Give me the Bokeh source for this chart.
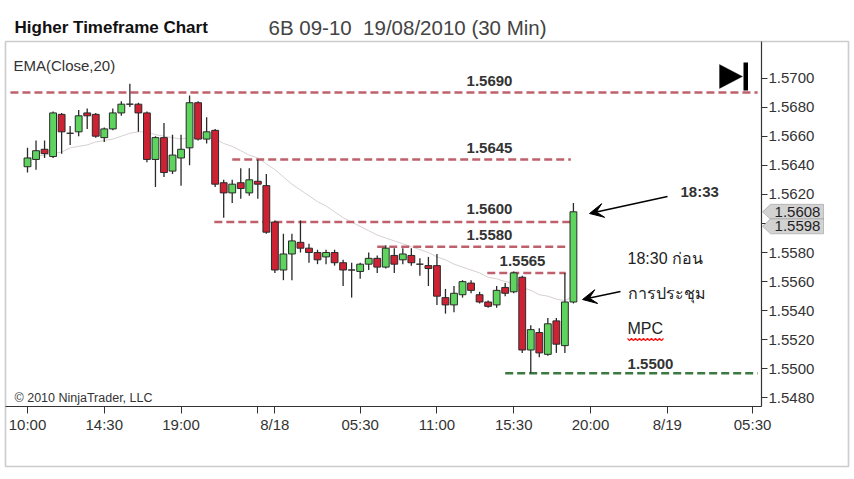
from bokeh.plotting import figure
from bokeh.models import (Range1d, FixedTicker, NumeralTickFormatter, Label, Arrow, VeeHead,
                          PolyAnnotation, BoxAnnotation, ColumnDataSource)
from bokeh.embed import file_html
from bokeh.resources import INLINE

# ---------------- data ----------------
opens = [1.5639, 1.5644, 1.5651, 1.5646, 1.5675, 1.5662, 1.5663, 1.5676, 1.5675, 1.5659,
         1.5665, 1.5676, 1.5682, 1.5682, 1.5676, 1.5644, 1.5659, 1.5636, 1.5645, 1.5652,
         1.5683, 1.5658, 1.5664, 1.5628, 1.5621, 1.5628, 1.5621, 1.5629, 1.5626, 1.5601,
         1.5568, 1.5579, 1.5587, 1.5583, 1.5580, 1.5577, 1.5580, 1.5573, 1.5568, 1.5567,
         1.5572, 1.5576, 1.5570, 1.5578, 1.5575, 1.5578, 1.5572, 1.5571, 1.5571, 1.5549,
         1.5544, 1.5551, 1.5559, 1.5551, 1.5546, 1.5544, 1.5556, 1.5553, 1.5563, 1.5513,
         1.5525, 1.5510, 1.5533, 1.5516, 1.5546]
highs = [1.5652, 1.5657, 1.5657, 1.5677, 1.5676, 1.5667, 1.5678, 1.5679, 1.5676, 1.5666,
         1.5679, 1.5684, 1.5696, 1.5683, 1.5677, 1.5660, 1.5669, 1.5661, 1.5661, 1.5688,
         1.5684, 1.5673, 1.5665, 1.5630, 1.5630, 1.5638, 1.5638, 1.5644, 1.5634, 1.5602,
         1.5593, 1.5593, 1.5602, 1.5586, 1.5582, 1.5582, 1.5582, 1.5575, 1.5573, 1.5573,
         1.5580, 1.5578, 1.5585, 1.5583, 1.5583, 1.5583, 1.5576, 1.5577, 1.5579, 1.5555,
         1.5557, 1.5561, 1.5561, 1.5553, 1.5547, 1.5557, 1.5559, 1.5567, 1.5564, 1.5530,
         1.5528, 1.5535, 1.5535, 1.5566, 1.5614]
lows = [1.5635, 1.5637, 1.5645, 1.5645, 1.5648, 1.5654, 1.5660, 1.5665, 1.5659, 1.5656,
        1.5664, 1.5674, 1.5680, 1.5663, 1.5642, 1.5625, 1.5632, 1.5634, 1.5626, 1.5640,
        1.5657, 1.5655, 1.5625, 1.5604, 1.5614, 1.5617, 1.5619, 1.5617, 1.5593, 1.5566,
        1.5561, 1.5561, 1.5580, 1.5573, 1.5572, 1.5572, 1.5571, 1.5557, 1.5549, 1.5562,
        1.5568, 1.5566, 1.5569, 1.5566, 1.5572, 1.5571, 1.5564, 1.5557, 1.5544, 1.5538,
        1.5539, 1.5549, 1.5552, 1.5545, 1.5542, 1.5542, 1.5550, 1.5552, 1.5511, 1.5497,
        1.5508, 1.5509, 1.5511, 1.5511, 1.5545]
closes = [1.5645, 1.5650, 1.5648, 1.5676, 1.5663, 1.5662, 1.5674, 1.5674, 1.5660, 1.5665,
          1.5676, 1.5682, 1.5682, 1.5676, 1.5644, 1.5659, 1.5635, 1.5647, 1.5651, 1.5683,
          1.5658, 1.5663, 1.5627, 1.5621, 1.5627, 1.5624, 1.5630, 1.5627, 1.5594, 1.5568,
          1.5579, 1.5588, 1.5583, 1.5580, 1.5575, 1.5580, 1.5573, 1.5568, 1.5568, 1.5572,
          1.5576, 1.5570, 1.5583, 1.5572, 1.5579, 1.5573, 1.5572, 1.5569, 1.5550, 1.5544,
          1.5552, 1.5560, 1.5554, 1.5546, 1.5543, 1.5554, 1.5552, 1.5566, 1.5513, 1.5527,
          1.5511, 1.5531, 1.5517, 1.5546, 1.5608]
ema20 = [1.5645, 1.5646, 1.5647, 1.5648, 1.5649, 1.5652, 1.5653, 1.5654, 1.5656, 1.5657,
         1.5658, 1.5660, 1.5662, 1.5663, 1.5663, 1.5661, 1.5660, 1.5659, 1.5658, 1.5659,
         1.5659, 1.5659, 1.5658, 1.5655, 1.5653, 1.5650, 1.5647, 1.5645, 1.5641, 1.5637,
         1.5632, 1.5627, 1.5623, 1.5619, 1.5615, 1.5612, 1.5608, 1.5604, 1.5601, 1.5598,
         1.5595, 1.5592, 1.5590, 1.5588, 1.5586, 1.5584, 1.5582, 1.5580, 1.5577, 1.5575,
         1.5572, 1.5570, 1.5568, 1.5566, 1.5563, 1.5562, 1.5560, 1.5559, 1.5556, 1.5554,
         1.5551, 1.5550, 1.5548, 1.5547, 1.5550]

x_tick_bars = [0, 9, 18, 27, 29, 39, 48, 57, 66, 75, 85]
x_tick_labels = ["10:00", "14:30", "19:00", "", "8/18", "05:30", "11:00", "15:30", "20:00", "8/19", "05:30"]
y_ticks = [1.5480, 1.5500, 1.5520, 1.5540, 1.5560, 1.5580, 1.5600, 1.5620, 1.5640, 1.5660, 1.5680, 1.5700]

res_levels = [1.5690, 1.5644, 1.5601, 1.5584, 1.5566]
res_labels = ["1.5690", "1.5645", "1.5600", "1.5580", "1.5565"]
res_from = [-2.0, 24.0, 21.9, 41.0, 53.9]
res_to = [85.6, 63.7, 63.7, 63.1, 63.1]
sup_level = 1.5497
sup_label = "1.5500"
sup_from, sup_to = 56.0, 85.6
last_price = 1.5608
marker_price = 1.5598

# ---------------- helpers (reference pixel -> data) ----------------
def xd(px):
    return (px - 27.0) / 8.53

def yd(py):
    return 1.5700 - (py - 77.5) / 14545.0

FONT = "Liberation Sans"
TXT = "#333333"

p = figure(width=854, height=479,
           min_border_left=0, min_border_right=0, min_border_top=0, min_border_bottom=0,
           x_range=Range1d(xd(0), xd(854)), y_range=Range1d(yd(479), yd(0)),
           y_axis_location="right", output_backend="svg", toolbar_location=None, title=None)
p.background_fill_color = "white"
p.border_fill_color = "white"
p.xgrid.visible = False
p.ygrid.visible = False
p.outline_line_color = None

ax = p.xaxis[0]
ax.fixed_location = yd(406)
ax.bounds = (xd(5), xd(761))
ax.ticker = FixedTicker(ticks=x_tick_bars)
ax.major_label_overrides = {t: l for t, l in zip(x_tick_bars, x_tick_labels)}
ax.minor_tick_line_color = None
ax.major_tick_in = 0
ax.major_tick_out = 7
ax.major_label_standoff = 2
ax.axis_line_color = "#333333"
ax.axis_line_width = 1.2
ax.major_tick_line_color = "#333333"
ax.major_label_text_font = FONT
ax.major_label_text_font_size = "15px"
ax.major_label_text_color = TXT

ay = p.yaxis[0]
ay.fixed_location = xd(761)
ay.bounds = (yd(406), yd(41))
ay.ticker = FixedTicker(ticks=y_ticks)
ay.formatter = NumeralTickFormatter(format="0.0000")
ay.minor_tick_line_color = None
ay.major_tick_in = 0
ay.major_tick_out = 6
ay.major_label_standoff = 1
ay.axis_line_color = "#333333"
ay.axis_line_width = 1.2
ay.major_tick_line_color = "#333333"
ay.major_label_text_font = FONT
ay.major_label_text_font_size = "15px"
ay.major_label_text_color = TXT

# outer panel box (its left/top sides are the chart's frame)
p.add_layout(BoxAnnotation(left=xd(5), right=xd(848), top=yd(41), bottom=yd(466),
                           fill_alpha=0, line_color="#555555", line_width=1.6))

# EMA line
bars = list(range(len(closes)))
p.line(bars, ema20, line_color="#d8d0d0", line_width=1)

# level lines
p.segment(x0=res_from, y0=res_levels, x1=res_to, y1=res_levels,
          line_color="#b8505c", line_width=2.5, line_dash="8 4", line_alpha=0.9)
p.segment(x0=[sup_from], y0=[sup_level], x1=[sup_to], y1=[sup_level],
          line_color="#3a7a40", line_width=2.4, line_dash="8 4")

# candles
colors = []
for o, c in zip(opens, closes):
    if c > o:
        colors.append("#5ed45e")
    elif c < o:
        colors.append("#cc2233")
    else:
        colors.append("#222222")
src = ColumnDataSource(dict(x=bars, high=highs, low=lows,
                            top=[max(o, c) for o, c in zip(opens, closes)],
                            bottom=[min(o, c) for o, c in zip(opens, closes)],
                            color=colors))
p.segment(x0="x", y0="low", x1="x", y1="high", source=src, line_color="#2a2a2a", line_width=1.3)
p.vbar(x="x", top="top", bottom="bottom", width=0.8, fill_color="color",
       line_color="#2a2a2a", line_width=1, source=src)

# level labels
lab_x = [489, 489, 489, 489, 522]
lab_off = [12, 11, 13, 12, 12]
for lv, lt, lx, lo in zip(res_levels, res_labels, lab_x, lab_off):
    p.add_layout(Label(x=xd(lx), y=lv, y_offset=lo, text=lt, text_font=FONT,
                       text_font_style="bold", text_font_size="15px", text_color=TXT,
                       text_align="center", text_baseline="middle"))
p.add_layout(Label(x=xd(650), y=sup_level, y_offset=9, text=sup_label, text_font=FONT,
                   text_font_style="bold", text_font_size="15px", text_color=TXT,
                   text_align="center", text_baseline="middle"))

# texts
def txt(px, py, s, size, bold=False, color=TXT, align="left"):
    p.add_layout(Label(x=xd(px), y=yd(py), text=s, text_font=FONT, text_font_size=size,
                       text_font_style="bold" if bold else "normal", text_color=color,
                       text_align=align, text_baseline="middle"))

txt(14, 27, "Higher Timeframe Chart", "17px", bold=True, color="#111111")
txt(268, 27, "6B 09-10\u00a0 19/08/2010 (30 Min)", "20.5px", color="#444444")
txt(13, 65, "EMA(Close,20)", "15px")
txt(14, 397, "\u00a9 2010 NinjaTrader, LLC", "12.5px")
txt(680, 191, "18:33", "15px", bold=True)
txt(627, 258, "18:30 ก่อน", "16px", color="#222222")
txt(627, 293, "การประชุม", "16px", color="#222222")
txt(627, 328, "MPC", "16px", color="#222222")

# spell-check squiggle under "MPC"
p.line([xd(627 + 2 * i) for i in range(19)], [yd(339 + (1.2 if i % 2 else -1.2)) for i in range(19)],
       line_color="#ff1010", line_width=1.3)

# arrows
p.add_layout(Arrow(end=VeeHead(size=14, fill_color="black", line_color="black"),
                   x_start=xd(667), y_start=yd(196), x_end=xd(589), y_end=yd(213),
                   line_color="black", line_width=1.5))
p.add_layout(Arrow(end=VeeHead(size=14, fill_color="black", line_color="black"),
                   x_start=xd(620), y_start=yd(291), x_end=xd(582), y_end=yd(299),
                   line_color="black", line_width=1.5))

# end-of-chart icon
p.add_layout(PolyAnnotation(xs=[xd(719), xd(719), xd(742)], ys=[yd(64), yd(88), yd(76)],
                            fill_color="black", fill_alpha=1, line_color="black"))
p.add_layout(BoxAnnotation(left=xd(743), right=xd(747.5), top=yd(62), bottom=yd(90),
                           fill_color="black", fill_alpha=1, line_color=None))

# price tags on the axis
half = 7.5 / 14545.0
for pr in [last_price, marker_price]:
    p.add_layout(PolyAnnotation(xs=[xd(762), xd(770), xd(823), xd(823), xd(770)],
                                ys=[pr, pr + half, pr + half, pr - half, pr - half],
                                fill_color="#d2d2d2", fill_alpha=1, line_color="#555555", line_width=1))
    p.add_layout(Label(x=xd(797), y=pr, text=f"{pr:.4f}", text_font=FONT, text_font_size="15px",
                       text_color="#222222", text_align="center", text_baseline="middle"))

open("out.html", "w").write(file_html(p, INLINE))
